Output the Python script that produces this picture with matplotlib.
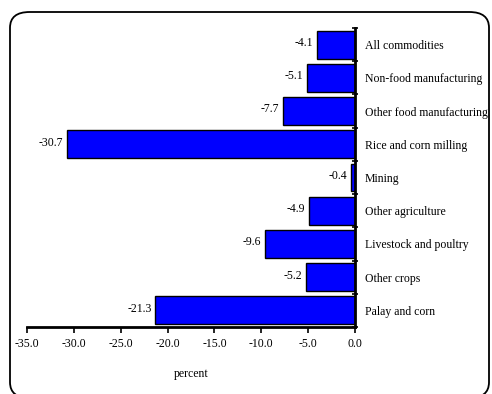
import matplotlib; matplotlib.use('Agg')
import matplotlib.pyplot as plt
from matplotlib.patches import FancyBboxPatch
import numpy as np

plt.rcParams['font.family'] = ['Liberation Serif', 'DejaVu Serif']

sectors = ['All commodities', 'Non-food manufacturing', 'Other food manufacturing',
           'Rice and corn milling', 'Mining', 'Other agriculture',
           'Livestock and poultry', 'Other crops', 'Palay and corn']
change = [-4.1, -5.1, -7.7, -30.7, -0.4, -4.9, -9.6, -5.2, -21.3]
xticks = [-35.0, -30.0, -25.0, -20.0, -15.0, -10.0, -5.0, 0.0]

W, H = 492, 394
fig = plt.figure(figsize=(W/100, H/100), dpi=100)
ax = fig.add_axes([27/W, 1-327/H, (355-27)/W, (327-28)/H])

y = np.arange(len(sectors))[::-1]
ax.barh(y, change, height=0.84, color='#0000FF', edgecolor='black', linewidth=1.0)
for yi, v in zip(y, change):
    ax.text(v - 0.4, yi + 0.05, f'{v:.1f}', ha='right', va='center', fontsize=8.5)

ax.set_xlim(-35, 0)
ax.set_ylim(-0.5, len(sectors) - 0.5)
ax.set_xticks(xticks)
ax.set_xticklabels([f'{t:.1f}' for t in xticks], fontsize=8.5)
ax.set_xlabel('percent', fontsize=8.5, labelpad=13)

ax.yaxis.tick_right()
ax.set_yticks(y)
ax.set_yticklabels(sectors, fontsize=8.5)
ax.tick_params(axis='y', length=0, pad=7)
ax.set_yticks(np.arange(len(sectors) + 1) - 0.5, minor=True)
ax.tick_params(axis='y', which='minor', length=4, width=1.2, direction='inout')
ax.tick_params(axis='x', length=4, width=1.2, direction='out', pad=4)

for s in ['top', 'left']:
    ax.spines[s].set_visible(False)
ax.spines['bottom'].set_linewidth(2)
ax.spines['right'].set_linewidth(2)

# rounded frame around the chart
frame = FancyBboxPatch((10/W, -4/H), (489-10)/W, (382+4)/H,
                       boxstyle='round,pad=0,rounding_size=0.04',
                       transform=fig.transFigure, fill=False,
                       edgecolor='black', linewidth=1.3, clip_on=False)
fig.patches.append(frame)

fig.savefig('out.png', dpi=100)
